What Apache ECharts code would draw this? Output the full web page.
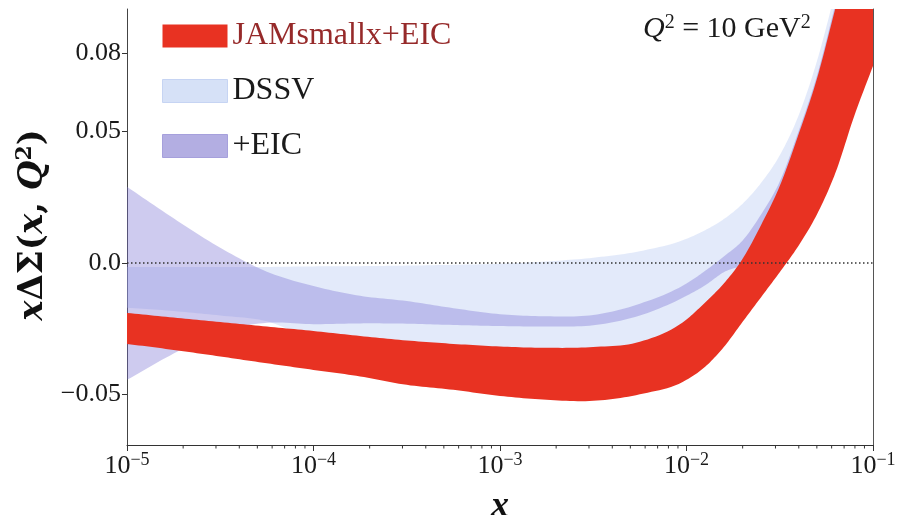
<!DOCTYPE html>
<html><head><meta charset="utf-8">
<script src="https://cdn.jsdelivr.net/npm/echarts@6/dist/echarts.min.js"></script>
<style>html,body{margin:0;padding:0;background:#fff}#c{width:904px;height:515px}</style>
</head><body><div id="c"></div>
<script>
// x positions (log-spaced sample points)
const X = [1e-5, 1.778e-5, 3.162e-5, 5.623e-5, 1e-4, 1.778e-4, 3.162e-4, 5.623e-4, 1e-3, 1.778e-3, 3.162e-3, 5.623e-3,
           1e-2, 1.259e-2, 1.585e-2, 1.995e-2, 2.512e-2, 3.162e-2, 3.981e-2, 5.012e-2, 6.310e-2, 7.943e-2, 1e-1];
// JAMsmallx+EIC band
const JAM_LOW = [-0.0308, -0.0331, -0.0356, -0.0382, -0.0407, -0.0432, -0.0464, -0.0483, -0.0506, -0.0521, -0.0525, -0.0500,
                 -0.0445, -0.0395, -0.0320, -0.0225, -0.0130, -0.0035, 0.0065, 0.0186, 0.0346, 0.0561, 0.0750];
const JAM_UP  = [-0.0190, -0.0208, -0.0225, -0.0242, -0.0259, -0.0278, -0.0295, -0.0308, -0.0318, -0.0323, -0.0320, -0.0300,
                 -0.0215, -0.0150, -0.0078, 0.0015, 0.0145, 0.0293, 0.0488, 0.0703, 0.0975, 0.1250, 0.1550];
// DSSV band
const DSSV_LOW = [-0.0170, -0.0183, -0.0200, -0.0222, -0.0290, -0.0320, -0.0335, -0.0350, -0.0360, -0.0365, -0.0360, -0.0340,
                  -0.0300, -0.0250, -0.0180, -0.0090, 0.0020, 0.0140, 0.0280, 0.0450, 0.0680, 0.0950, 0.1200];
const DSSV_UP  = [-0.0015, -0.0015, -0.0015, -0.0015, -0.0013, -0.0012, -0.0010, -0.0007, -0.0003, 0.0006, 0.0020, 0.0045,
                  0.0092, 0.0125, 0.0167, 0.0225, 0.0305, 0.0410, 0.0560, 0.0770, 0.1040, 0.1340, 0.1650];
// +EIC band
const EIC_LOW = [-0.0445, -0.0345, -0.0262, -0.0228, -0.0233, -0.0230, -0.0231, -0.0236, -0.0240, -0.0242, -0.0237, -0.0200,
                 -0.0125, -0.0085, -0.0035, -0.0005, 0.0060, 0.0200, 0.0360, 0.0550, 0.0800, 0.1100, 0.1400];
const EIC_UP  = [0.0290, 0.0170, 0.0058, -0.0033, -0.0088, -0.0125, -0.0145, -0.0172, -0.0195, -0.0203, -0.0198, -0.0155,
                 -0.0078, -0.0030, 0.0025, 0.0085, 0.0185, 0.0310, 0.0500, 0.0715, 0.0990, 0.1270, 0.1570];
// axes
const X_TICKS = [1e-5, 1e-4, 1e-3, 1e-2, 1e-1];
const X_TICK_EXP = ['−5', '−4', '−3', '−2', '−1'];
const X_MINOR = [2e-5,3e-5,4e-5,5e-5,6e-5,7e-5,8e-5,9e-5, 2e-4,3e-4,4e-4,5e-4,6e-4,7e-4,8e-4,9e-4,
                 2e-3,3e-3,4e-3,5e-3,6e-3,7e-3,8e-3,9e-3, 2e-2,3e-2,4e-2,5e-2,6e-2,7e-2,8e-2,9e-2];
const Y_TICKS = [-0.05, 0.0, 0.05, 0.08];
const Y_TICK_LABELS = ['−0.05', '0.0', '0.05', '0.08'];
const Y_MIN = -0.0693, Y_MAX = 0.0967;

const SERIF = 'Liberation Serif';
const chart = echarts.init(document.getElementById('c'), null, {renderer: 'canvas'});

// smooth curve through screen points (cubic Hermite, x increasing)
function smoothCurve(p) {
  const n = p.length, out = [];
  const d = [], h = [];
  for (let k = 0; k < n - 1; k++) { h[k] = p[k + 1][0] - p[k][0]; d[k] = (p[k + 1][1] - p[k][1]) / h[k]; }
  const m = [];
  m[0] = d[0]; m[n - 1] = d[n - 2];
  for (let k = 1; k < n - 1; k++) m[k] = (d[k - 1] * h[k] + d[k] * h[k - 1]) / (h[k - 1] + h[k]);
  for (let k = 0; k < n - 1; k++) {
    const steps = 12;
    for (let s = 0; s < steps; s++) {
      const t = s / steps, t2 = t * t, t3 = t2 * t;
      const h00 = 2 * t3 - 3 * t2 + 1, h10 = t3 - 2 * t2 + t, h01 = -2 * t3 + 3 * t2, h11 = t3 - t2;
      out.push([p[k][0] + t * h[k],
                h00 * p[k][1] + h10 * h[k] * m[k] + h01 * p[k + 1][1] + h11 * h[k] * m[k + 1]]);
    }
  }
  out.push(p[n - 1]);
  return out;
}

function bandSeries(name, lo, hi, color) {
  return {
    name: name, type: 'custom', clip: true, silent: true, z: 2,
    itemStyle: {color: color},
    data: X.map((x, i) => [x, lo[i], hi[i]]),
    encode: {x: 0, y: [1, 2]},
    renderItem: function (params, api) {
      if (params.dataIndex !== 0) return null;
      const up = X.map((x, i) => api.coord([x, hi[i]]));
      const dn = X.map((x, i) => api.coord([x, lo[i]]));
      const pts = smoothCurve(up).concat(smoothCurve(dn).reverse());
      return {type: 'polygon', shape: {points: pts}, style: {fill: color}};
    }
  };
}

const series = [
  bandSeries('DSSV', DSSV_LOW, DSSV_UP, 'rgba(176,196,240,0.35)'),
  bandSeries('+EIC', EIC_LOW, EIC_UP, 'rgba(120,110,210,0.36)'),
  bandSeries('JAMsmallx+EIC', JAM_LOW, JAM_UP, '#e83222'),
  {
    type: 'line', data: [], silent: true, z: 4,
    markLine: {
      silent: true, symbol: 'none', label: {show: false}, animation: false,
      lineStyle: {color: '#333', width: 1.5, type: [1.5, 2.5]},
      data: [{yAxis: 0}]
    }
  },
  {
    type: 'custom', silent: true, clip: false, z: 5,
    data: X_MINOR.map(v => [v, Y_MIN]), encode: {x: 0, y: 1},
    renderItem: function (params, api) {
      const p = api.coord([api.value(0), Y_MIN]);
      return {type: 'line', shape: {x1: p[0], y1: p[1], x2: p[0], y2: p[1] + 3.5},
              style: {stroke: '#333', lineWidth: 1}};
    }
  }
];

chart.setOption({
  animation: false,
  backgroundColor: '#fff',
  grid: {left: 127, right: 31, top: 9, bottom: 70, containLabel: false, outerBoundsMode: 'none'},
  legend: {
    orient: 'vertical', left: 162, top: 20, padding: 0, itemWidth: 65, itemHeight: 23, itemGap: 23,
    icon: 'rect', selectedMode: false,
    textStyle: {fontFamily: SERIF, fontSize: 32, color: '#1a1a1a'},
    data: [
      {name: 'JAMsmallx+EIC', itemStyle: {color: '#e83222'}, textStyle: {color: '#962a2a'}},
      {name: 'DSSV', itemStyle: {color: '#d6e1f7', borderColor: '#c6d4f3', borderWidth: 1}},
      {name: '+EIC', itemStyle: {color: '#b3aee2', borderColor: '#a6a0dc', borderWidth: 1}}
    ]
  },
  graphic: [{
    type: 'text', left: 643, top: 13, z: 10,
    style: {
      text: '{q|Q}{s|2}{n| = 10 GeV}{s|2}',
      rich: {
        q: {fontFamily: SERIF, fontStyle: 'italic', fontSize: 30, fill: '#1a1a1a', lineHeight: 33},
        n: {fontFamily: SERIF, fontSize: 30, fill: '#1a1a1a', lineHeight: 33},
        s: {fontFamily: SERIF, fontSize: 20, fill: '#1a1a1a', verticalAlign: 'top', lineHeight: 21}
      }
    }
  }],
  xAxis: {
    type: 'log', logBase: 10, min: 1e-5, max: 0.1,
    name: 'x', nameLocation: 'middle', nameGap: 44,
    nameTextStyle: {fontFamily: SERIF, fontStyle: 'italic', fontWeight: 'bold', fontSize: 36, color: '#111'},
    axisLine: {show: true, onZero: false, lineStyle: {color: '#333', width: 1}},
    axisTick: {show: true, length: 6, inside: false, lineStyle: {color: '#333'}, customValues: X_TICKS},
    splitLine: {show: false},
    axisLabel: {
      margin: 6, customValues: X_TICKS,
      formatter: function (v) {
        let i = X_TICKS.findIndex(t => Math.abs(Math.log10(t) - Math.log10(v)) < 1e-6);
        return i < 0 ? '' : '{b|10}{s|' + X_TICK_EXP[i] + '}';
      },
      rich: {
        b: {fontFamily: SERIF, fontSize: 26, color: '#1a1a1a', lineHeight: 30},
        s: {fontFamily: SERIF, fontSize: 18, color: '#1a1a1a', verticalAlign: 'top', lineHeight: 20}
      }
    }
  },
  yAxis: [{
    type: 'value', min: Y_MIN, max: Y_MAX,
    name: '{i|x}{b|ΔΣ(}{i|x}{b|, }{i|Q}{s|2}{b|)}', nameLocation: 'middle', nameGap: 60,
    nameTextStyle: {
      padding: [0, 0, 0, 4],
      rich: {
        i: {fontFamily: 'DejaVu Serif', fontStyle: 'italic', fontWeight: 'bold', fontSize: 34, color: '#111', lineHeight: 38},
        b: {fontFamily: 'DejaVu Serif', fontWeight: 'bold', fontSize: 34, color: '#111', lineHeight: 38},
        s: {fontFamily: 'DejaVu Serif', fontWeight: 'bold', fontSize: 22, color: '#111', verticalAlign: 'top', lineHeight: 24}
      }
    },
    axisLine: {show: true, onZero: false, lineStyle: {color: '#444', width: 1}},
    axisTick: {show: true, length: 5, lineStyle: {color: '#333'}, customValues: Y_TICKS},
    splitLine: {show: false},
    axisLabel: {
      margin: 6, customValues: Y_TICKS,
      fontFamily: SERIF, fontSize: 26, color: '#1a1a1a',
      formatter: function (v) {
        let i = Y_TICKS.findIndex(t => Math.abs(t - v) < 1e-9);
        return i < 0 ? '' : Y_TICK_LABELS[i];
      }
    }
  }, {
    type: 'value', position: 'right', min: Y_MIN, max: Y_MAX,
    axisLine: {show: true, onZero: false, lineStyle: {color: '#555', width: 1}},
    axisTick: {show: false}, axisLabel: {show: false}, splitLine: {show: false}
  }],
  series: series
});
</script>
</body></html>
